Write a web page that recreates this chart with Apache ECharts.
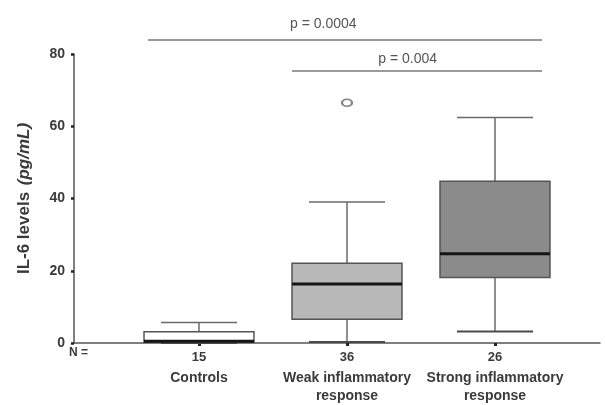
<!DOCTYPE html>
<html>
<head>
<meta charset="utf-8">
<script src="https://cdn.jsdelivr.net/npm/echarts@6/dist/echarts.min.js"></script>
<style>
  html, body { margin: 0; padding: 0; background: #ffffff; }
  #chart { width: 605px; height: 405px; }
</style>
</head>
<body>
<div id="chart"></div>
<script>
// Groups and their sizes
const categories = ['Controls', 'Weak inflammatory\nresponse', 'Strong inflammatory\nresponse'];
const groupSizes = [15, 36, 26];

// IL-6 five-number summaries per group: min, Q1, median, Q3, max (pg/mL)
const lowWhisker = [0, 0.3, 3.2];
const lowerQuartile = [0.2, 6.6, 18.1];
const medians = [0.5, 16.3, 24.7];
const upperQuartile = [3.1, 22.1, 44.8];
const highWhisker = [5.7, 39.0, 62.4];

// Outlying observations: [group index, value]
const outliers = [[1, 66.5]];

// Y axis ticks
const yMin = 0, yMax = 80, yStep = 20;

// Pairwise comparisons: span in group-index units, bracket level and label
const bracketStart = [-0.345, 0.628];
const bracketEnd = [2.318, 2.318];
const bracketLevel = [83.9, 75.3];
const labelPos = [0.84, 1.41];
const labelLevel = [88.3, 78.6];
const pValues = ['p = 0.0004', 'p = 0.004'];

const boxFills = ['#ffffff', '#b8b8b8', '#8b8b8b'];
const FONT = "'Liberation Sans', Arial, Helvetica, sans-serif";
const TEXT = '#3a3a3a';

const boxData = categories.map((c, i) => [i, lowWhisker[i], lowerQuartile[i], medians[i], upperQuartile[i], highWhisker[i]]);
const bracketData = pValues.map((p, i) => [bracketStart[i], bracketEnd[i], bracketLevel[i], labelPos[i], labelLevel[i], p]);

function renderBox(params, api) {
  const i = api.value(0);
  const lo = api.coord([i, api.value(1)]);
  const q1 = api.coord([i, api.value(2)]);
  const md = api.coord([i, api.value(3)]);
  const q3 = api.coord([i, api.value(4)]);
  const hi = api.coord([i, api.value(5)]);
  const band = api.size([1, 0])[0];
  const bw = band * 0.743;
  const cw = band * 0.514;
  const x = lo[0];
  const wStyle = { stroke: '#6a6a6a', lineWidth: 1.5 };
  return {
    type: 'group',
    children: [
      { type: 'line', shape: { x1: x, y1: hi[1], x2: x, y2: q3[1] }, style: wStyle },
      { type: 'line', shape: { x1: x, y1: q1[1], x2: x, y2: lo[1] }, style: wStyle },
      { type: 'line', shape: { x1: x - cw / 2, y1: hi[1], x2: x + cw / 2, y2: hi[1] }, style: wStyle },
      { type: 'line', shape: { x1: x - cw / 2, y1: lo[1], x2: x + cw / 2, y2: lo[1] }, style: { stroke: '#4a4a4a', lineWidth: 2 } },
      { type: 'rect', shape: { x: x - bw / 2, y: q3[1], width: bw, height: q1[1] - q3[1] },
        style: { fill: boxFills[params.dataIndex], stroke: '#555555', lineWidth: 1.5 } },
      { type: 'line', shape: { x1: x - bw / 2, y1: md[1], x2: x + bw / 2, y2: md[1] }, style: { stroke: '#151515', lineWidth: 3 } }
    ]
  };
}

function renderBracket(params, api) {
  const a = api.coord([api.value(0), api.value(2)]);
  const b = api.coord([api.value(1), api.value(2)]);
  const t = api.coord([api.value(3), api.value(4)]);
  return {
    type: 'group',
    children: [
      { type: 'line', shape: { x1: a[0], y1: a[1], x2: b[0], y2: b[1] }, style: { stroke: '#7a7a7a', lineWidth: 1.5 } },
      { type: 'text', x: t[0], y: t[1],
        style: { text: pValues[params.dataIndex], fill: '#555555', font: '14px ' + FONT, align: 'center', verticalAlign: 'middle' } }
    ]
  };
}

const chart = echarts.init(document.getElementById('chart'), null, { renderer: 'canvas' });
chart.setOption({
  backgroundColor: '#ffffff',
  animation: false,
  grid: [
    { left: 74, right: 5, top: 54, bottom: 62 },
    { left: 125, right: 36, top: 54, bottom: 62 }
  ],
  xAxis: [
    {
      gridIndex: 0, type: 'value', min: -0.8446, max: 2.7095,
      axisLine: { show: true, onZero: false, lineStyle: { color: '#555555', width: 1.5 } },
      axisTick: { show: false }, axisLabel: { show: false }, splitLine: { show: false }
    },
    {
      gridIndex: 1, type: 'category', data: categories, boundaryGap: true,
      axisLine: { show: false, onZero: false },
      axisTick: { show: true, alignWithLabel: true, length: 3, lineStyle: { color: '#222222', width: 3 } },
      axisLabel: {
        margin: 2,
        interval: 0,
        formatter: (value, idx) => {
          const lines = value.split('\n').map(s => '{c|' + s + '}');
          return '{n|' + groupSizes[idx] + '}\n' + lines.join('\n');
        },
        rich: {
          n: { fontFamily: FONT, fontSize: 13, fontWeight: 'bold', color: TEXT, lineHeight: 24, align: 'center' },
          c: { fontFamily: FONT, fontSize: 14, fontWeight: 'bold', color: TEXT, lineHeight: 18, align: 'center' }
        }
      }
    }
  ],
  yAxis: [
    {
      gridIndex: 0, type: 'value', min: yMin, max: yMax, interval: yStep,
      axisLine: { show: true, onZero: false, lineStyle: { color: '#555555', width: 1.5 } },
      axisTick: { show: true, length: 3, lineStyle: { color: '#222222', width: 2.5 } },
      axisLabel: { margin: 9, fontFamily: FONT, fontSize: 14, fontWeight: 'bold', color: TEXT },
      splitLine: { show: false },
      name: '{a|IL-6 levels}  {b|(pg/mL)}',
      nameLocation: 'middle',
      nameGap: 41,
      nameTextStyle: {
        rich: {
          a: { fontFamily: FONT, fontSize: 17, fontWeight: 'bold', color: TEXT },
          b: { fontFamily: FONT, fontSize: 17, fontWeight: 'bold', fontStyle: 'italic', color: TEXT }
        }
      }
    },
    {
      gridIndex: 1, type: 'value', min: yMin, max: yMax, interval: yStep, show: false
    }
  ],
  graphic: [
    { type: 'text', left: 69, top: 347, style: { text: 'N =', fill: TEXT, font: 'bold 12px ' + FONT } }
  ],
  series: [
    {
      type: 'custom', name: 'IL-6', xAxisIndex: 1, yAxisIndex: 1,
      data: boxData, renderItem: renderBox, clip: false,
      encode: { x: 0, y: [1, 2, 3, 4, 5] }
    },
    {
      type: 'scatter', name: 'Outliers', xAxisIndex: 1, yAxisIndex: 1,
      data: outliers, symbol: 'emptyCircle', symbolSize: [10, 7],
      itemStyle: { color: '#666666', borderColor: '#666666', borderWidth: 1.5 }
    },
    {
      type: 'custom', name: 'Comparisons', xAxisIndex: 0, yAxisIndex: 0,
      data: bracketData, renderItem: renderBracket, clip: false,
      encode: { x: [0, 1, 3], y: [2, 4] }
    }
  ]
});
</script>
</body>
</html>
